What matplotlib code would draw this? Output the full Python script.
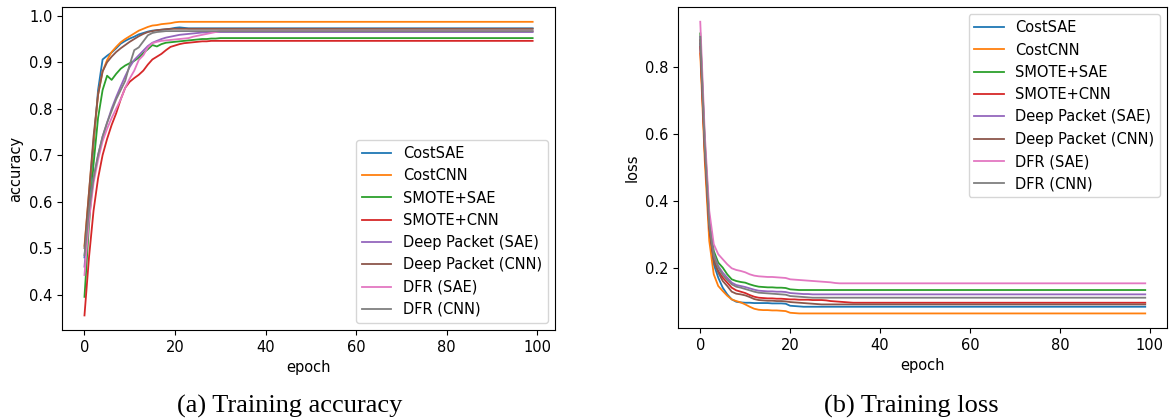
import matplotlib.pyplot as plt

epochs = list(range(100))
labels = ['CostSAE', 'CostCNN', 'SMOTE+SAE', 'SMOTE+CNN',
          'Deep Packet (SAE)', 'Deep Packet (CNN)', 'DFR (SAE)', 'DFR (CNN)']

acc_costsae = [0.48, 0.60, 0.72, 0.84, 0.906, 0.914, 0.921, 0.930, 0.940, 0.946,
               0.951, 0.955, 0.960, 0.963, 0.966, 0.968, 0.969, 0.970, 0.971, 0.972,
               0.974, 0.975, 0.974, 0.973, 0.973, 0.973, 0.973, 0.973, 0.973, 0.973] + [0.973] * 70
acc_costcnn = [0.505, 0.62, 0.73, 0.83, 0.88, 0.905, 0.922, 0.933, 0.943, 0.950,
               0.956, 0.962, 0.968, 0.972, 0.976, 0.979, 0.980, 0.982, 0.983, 0.984,
               0.986, 0.987, 0.987, 0.987, 0.987, 0.987, 0.987, 0.987, 0.987, 0.987] + [0.987] * 70
acc_smote_sae = [0.395, 0.55, 0.68, 0.78, 0.84, 0.871, 0.862, 0.875, 0.886, 0.893,
                 0.898, 0.903, 0.910, 0.920, 0.928, 0.937, 0.934, 0.939, 0.942, 0.943,
                 0.944, 0.945, 0.946, 0.947, 0.948, 0.949, 0.950, 0.950, 0.951, 0.951] + [0.952] * 70
acc_smote_cnn = [0.355, 0.48, 0.58, 0.65, 0.70, 0.735, 0.765, 0.790, 0.820, 0.845,
                 0.858, 0.866, 0.873, 0.882, 0.895, 0.906, 0.912, 0.918, 0.926, 0.933,
                 0.936, 0.939, 0.941, 0.942, 0.943, 0.944, 0.945, 0.945, 0.946, 0.946] + [0.946] * 70
acc_dp_sae = [0.46, 0.57, 0.65, 0.70, 0.74, 0.77, 0.80, 0.825, 0.848, 0.870,
              0.890, 0.905, 0.915, 0.925, 0.935, 0.942, 0.946, 0.950, 0.953, 0.955,
              0.957, 0.959, 0.960, 0.961, 0.962, 0.963, 0.964, 0.964, 0.965, 0.965] + [0.965] * 70
acc_dp_cnn = [0.50, 0.62, 0.74, 0.83, 0.88, 0.900, 0.912, 0.922, 0.930, 0.937,
              0.944, 0.950, 0.956, 0.961, 0.965, 0.967, 0.969, 0.970, 0.971, 0.972,
              0.972, 0.972, 0.972, 0.972, 0.972, 0.972, 0.972, 0.972, 0.972, 0.972] + [0.972] * 70
acc_dfr_sae = [0.442, 0.56, 0.64, 0.69, 0.73, 0.757, 0.78, 0.80, 0.82, 0.845,
               0.865, 0.882, 0.905, 0.915, 0.932, 0.941, 0.944, 0.946, 0.947, 0.948,
               0.949, 0.950, 0.951, 0.952, 0.955, 0.957, 0.959, 0.961, 0.963, 0.965] + [0.967] * 70
acc_dfr_cnn = [0.485, 0.58, 0.65, 0.70, 0.74, 0.77, 0.795, 0.82, 0.84, 0.86,
               0.895, 0.926, 0.932, 0.945, 0.958, 0.963, 0.965, 0.966, 0.967, 0.967,
               0.967, 0.967, 0.967, 0.967, 0.967, 0.967, 0.967, 0.967, 0.967, 0.967] + [0.967] * 70

loss_costsae = [0.87, 0.55, 0.31, 0.21, 0.17, 0.14, 0.12, 0.105, 0.098, 0.096,
                0.095, 0.095, 0.094, 0.094, 0.094, 0.094, 0.093, 0.093, 0.093, 0.092,
                0.086, 0.085, 0.084, 0.083, 0.083, 0.083, 0.083, 0.083, 0.083, 0.083,
                0.083, 0.083, 0.083, 0.083, 0.083] + [0.083] * 65
loss_costcnn = [0.84, 0.52, 0.28, 0.18, 0.145, 0.13, 0.116, 0.105, 0.100, 0.096,
                0.090, 0.083, 0.077, 0.074, 0.073, 0.073, 0.072, 0.072, 0.071, 0.070,
                0.065, 0.064, 0.063, 0.063, 0.063, 0.063, 0.063, 0.063, 0.063, 0.063,
                0.063, 0.063, 0.063, 0.063, 0.063] + [0.063] * 65
loss_smote_sae = [0.90, 0.58, 0.35, 0.25, 0.215, 0.20, 0.18, 0.165, 0.160, 0.157,
                  0.155, 0.150, 0.146, 0.143, 0.142, 0.141, 0.141, 0.140, 0.140, 0.139,
                  0.135, 0.134, 0.133, 0.133, 0.133, 0.133, 0.133, 0.133, 0.133, 0.133,
                  0.133, 0.133, 0.133, 0.133, 0.133] + [0.133] * 65
loss_smote_cnn = [0.86, 0.55, 0.32, 0.225, 0.19, 0.17, 0.155, 0.140, 0.132, 0.128,
                  0.124, 0.118, 0.113, 0.110, 0.109, 0.108, 0.108, 0.107, 0.107, 0.106,
                  0.105, 0.105, 0.104, 0.104, 0.104, 0.103, 0.103, 0.103, 0.102, 0.100,
                  0.099, 0.098, 0.097, 0.096, 0.095] + [0.095] * 65
loss_dp_sae = [0.89, 0.57, 0.34, 0.24, 0.205, 0.185, 0.17, 0.155, 0.148, 0.145,
               0.142, 0.138, 0.134, 0.131, 0.130, 0.129, 0.129, 0.128, 0.128, 0.127,
               0.124, 0.123, 0.122, 0.121, 0.121, 0.120, 0.120, 0.120, 0.120, 0.120,
               0.120, 0.120, 0.120, 0.120, 0.120] + [0.120] * 65
loss_dp_cnn = [0.88, 0.56, 0.32, 0.22, 0.185, 0.16, 0.145, 0.128, 0.122, 0.120,
               0.117, 0.112, 0.106, 0.103, 0.102, 0.101, 0.101, 0.100, 0.100, 0.099,
               0.097, 0.096, 0.095, 0.094, 0.093, 0.092, 0.091, 0.090, 0.090, 0.090,
               0.090, 0.090, 0.090, 0.090, 0.090] + [0.090] * 65
loss_dfr_sae = [0.935, 0.60, 0.37, 0.27, 0.24, 0.225, 0.21, 0.198, 0.193, 0.190,
                0.186, 0.180, 0.176, 0.174, 0.173, 0.172, 0.172, 0.171, 0.170, 0.169,
                0.165, 0.164, 0.163, 0.162, 0.161, 0.160, 0.159, 0.158, 0.157, 0.156,
                0.154, 0.153, 0.153, 0.153, 0.153] + [0.153] * 65
loss_dfr_cnn = [0.89, 0.57, 0.33, 0.235, 0.20, 0.178, 0.163, 0.150, 0.143, 0.140,
                0.136, 0.132, 0.128, 0.125, 0.124, 0.123, 0.122, 0.121, 0.120, 0.119,
                0.115, 0.114, 0.113, 0.112, 0.111, 0.110, 0.110, 0.110, 0.110, 0.110,
                0.110, 0.110, 0.110, 0.110, 0.110] + [0.110] * 65

acc = [acc_costsae, acc_costcnn, acc_smote_sae, acc_smote_cnn,
       acc_dp_sae, acc_dp_cnn, acc_dfr_sae, acc_dfr_cnn]
loss = [loss_costsae, loss_costcnn, loss_smote_sae, loss_smote_cnn,
        loss_dp_sae, loss_dp_cnn, loss_dfr_sae, loss_dfr_cnn]

plt.rcParams['font.size'] = 10.5

fig = plt.figure(figsize=(11.71, 4.2), dpi=100)
ax1 = fig.add_axes([0.053, 0.214, 0.421, 0.769])
ax2 = fig.add_axes([0.579, 0.219, 0.418, 0.764])

for y, lab in zip(acc, labels):
    ax1.plot(epochs, y, label=lab, lw=1.3)
ax1.set_xlabel('epoch')
ax1.set_ylabel('accuracy')
ax1.legend(loc='lower right')

for y, lab in zip(loss, labels):
    ax2.plot(epochs, y, label=lab, lw=1.3)
ax2.set_xlabel('epoch')
ax2.set_ylabel('loss')
ax2.legend(loc='upper right')

fig.text(0.247, 0.017, '(a) Training accuracy', family='Liberation Serif',
         fontsize=19, ha='center', va='baseline')
fig.text(0.778, 0.017, '(b) Training loss', family='Liberation Serif',
         fontsize=19, ha='center', va='baseline')

fig.savefig('out.png', dpi=100)
